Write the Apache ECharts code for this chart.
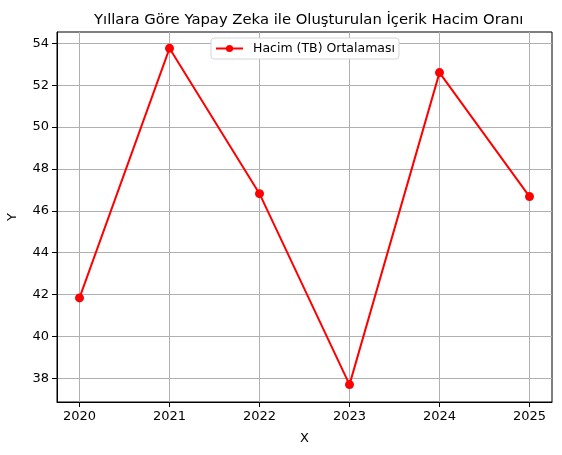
<!DOCTYPE html>
<html>
<head>
<meta charset="utf-8">
<script src="https://cdn.jsdelivr.net/npm/echarts@6/dist/echarts.min.js"></script>
<style>
  html, body { margin: 0; padding: 0; background: #fff; }
  #chart { width: 562px; height: 455px; }
</style>
</head>
<body>
<div id="chart"></div>
<script>
// data
const years = [2020, 2021, 2022, 2023, 2024, 2025];
const volume = [41.84, 53.76, 46.82, 37.70, 52.60, 46.68];
const yTicks = [38, 40, 42, 44, 46, 48, 50, 52, 54];
const seriesName = "Hacim (TB) Ortalaması";

const font = "DejaVu Sans";
const chart = echarts.init(document.getElementById("chart"));

chart.setOption({
  animation: false,
  title: {
    text: "Yıllara Göre Yapay Zeka ile Oluşturulan İçerik Hacim Oranı",
    left: 89,
    top: 8,
    textStyle: { fontFamily: font, fontSize: 14.8, fontWeight: "normal", color: "#000" },
  },
  legend: {
    data: [seriesName],
    top: 38,
    left: 211,
    padding: [4, 4, 4, 4],
    itemWidth: 27,
    itemHeight: 9,
    backgroundColor: "#fff",
    borderColor: "#d5d5d5",
    borderWidth: 1,
    borderRadius: 3,
    textStyle: { fontFamily: font, fontSize: 12.5, color: "#000", padding: [0, 0, 0, 5] },
  },
  grid: {
    left: 57,
    right: 10,
    top: 32,
    bottom: 53,
    outerBoundsMode: "none",
    containLabel: false,
    show: true,
    borderColor: "#000",
    borderWidth: 1,
  },
  xAxis: {
    type: "value",
    min: 2019.75,
    max: 2025.25,
    name: "X",
    nameLocation: "middle",
    nameGap: 30,
    nameTextStyle: { fontFamily: font, fontSize: 13, color: "#000" },
    axisLine: { show: true, lineStyle: { color: "#000" } },
    axisTick: { show: true, length: 5, customValues: years, lineStyle: { color: "#000" } },
    axisLabel: {
      customValues: years,
      formatter: (v) => String(v),
      fontFamily: font,
      fontSize: 13,
      color: "#000",
      margin: 8,
    },
    splitLine: { show: true, lineStyle: { color: "#b0b0b0", width: 1 } },
  },
  yAxis: {
    type: "value",
    min: 36.87,
    max: 54.54,
    name: "Y",
    nameLocation: "middle",
    nameGap: 38,
    nameTextStyle: { fontFamily: font, fontSize: 13, color: "#000" },
    axisLine: { show: true, lineStyle: { color: "#000" } },
    axisTick: { show: true, length: 5, customValues: yTicks, lineStyle: { color: "#000" } },
    axisLabel: {
      customValues: yTicks,
      fontFamily: font,
      fontSize: 13,
      color: "#000",
      margin: 8,
    },
    splitLine: { show: true, lineStyle: { color: "#b0b0b0", width: 1 } },
  },
  series: [
    {
      name: seriesName,
      type: "line",
      data: years.map((y, i) => [y, volume[i]]),
      symbol: "circle",
      symbolSize: 9,
      color: "#ff0000",
      lineStyle: { color: "#ff0000", width: 2 },
      itemStyle: { color: "#ff0000" },
    },
  ],
});
</script>
</body>
</html>
